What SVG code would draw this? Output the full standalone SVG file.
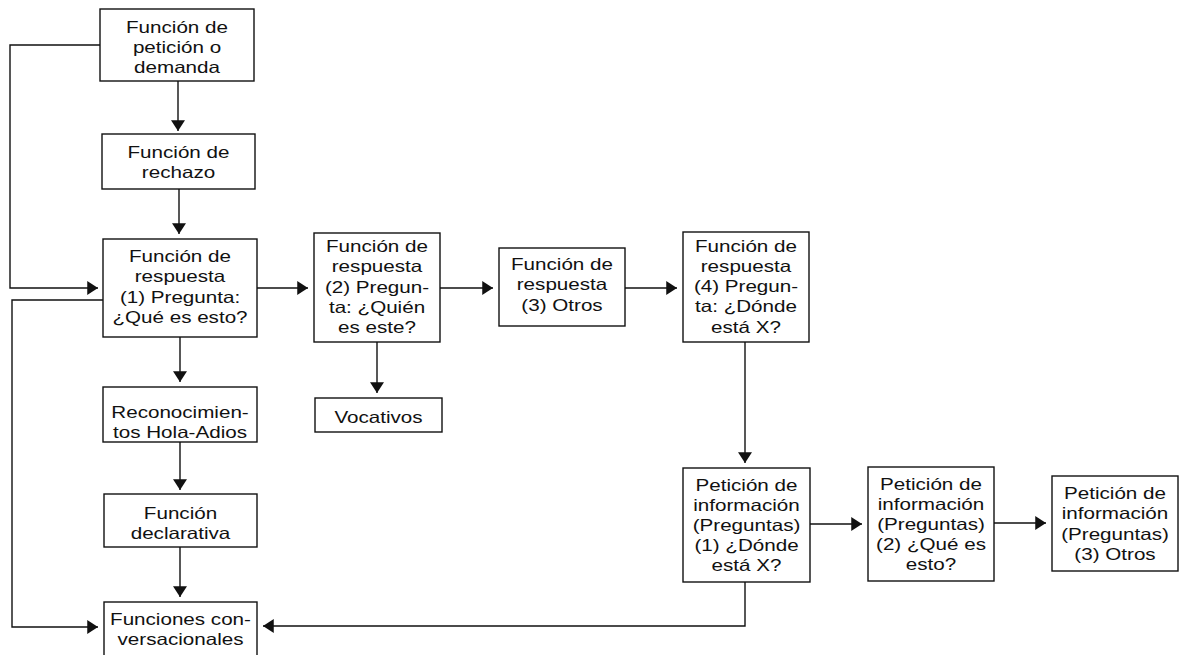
<svg xmlns="http://www.w3.org/2000/svg" width="1179" height="655" viewBox="0 0 1179 655">
<style>
  .box { fill: #ffffff; stroke: #111; stroke-width: 1.4; }
  .lbl { font-family: "Liberation Sans", Arial, sans-serif; font-size: 16.5px; fill: #111; text-anchor: middle; }
  .edge { fill: none; stroke: #111; stroke-width: 1.4; }
</style>
<defs>
  <marker id="ah" markerUnits="userSpaceOnUse" markerWidth="12" markerHeight="14" viewBox="0 0 10 13" refX="10" refY="6.5" orient="auto">
    <path d="M0,0 L10,6.5 L0,13 Z" fill="#111"/>
  </marker>
</defs>
<rect width="1179" height="655" fill="#ffffff"/>

<g id="connectors">
  <path class="edge" marker-end="url(#ah)" d="M178,81 V131"/>
  <path class="edge" marker-end="url(#ah)" d="M179,189 V234"/>
  <path class="edge" marker-end="url(#ah)" d="M180,337 V382"/>
  <path class="edge" marker-end="url(#ah)" d="M180,442 V490"/>
  <path class="edge" marker-end="url(#ah)" d="M180,547 V597"/>
  <path class="edge" marker-end="url(#ah)" d="M100,45 H10 V288 H98"/>
  <path class="edge" marker-end="url(#ah)" d="M103,300 H12 V627 H98"/>
  <path class="edge" marker-end="url(#ah)" d="M257,288 H308"/>
  <path class="edge" marker-end="url(#ah)" d="M377,342 V393"/>
  <path class="edge" marker-end="url(#ah)" d="M440,288 H493"/>
  <path class="edge" marker-end="url(#ah)" d="M625,288 H677"/>
  <path class="edge" marker-end="url(#ah)" d="M745,342 V463"/>
  <path class="edge" marker-end="url(#ah)" d="M810,524 H862"/>
  <path class="edge" marker-end="url(#ah)" d="M994,523 H1046"/>
  <path class="edge" marker-end="url(#ah)" d="M745,582 V626 H263"/>
</g>

<g id="n1">
  <rect class="box" x="100" y="9" width="154" height="72"/>
  <text class="lbl" transform="translate(177 0) scale(1.25 1)"><tspan x="0" y="33">Función de</tspan><tspan x="0" y="53">petición o</tspan><tspan x="0" y="73">demanda</tspan></text>
</g>
<g id="n2">
  <rect class="box" x="102" y="134" width="153" height="55"/>
  <text class="lbl" transform="translate(178.5 0) scale(1.25 1)"><tspan x="0" y="158">Función de</tspan><tspan x="0" y="178">rechazo</tspan></text>
</g>
<g id="n3">
  <rect class="box" x="103" y="239" width="154" height="98"/>
  <text class="lbl" transform="translate(180 0) scale(1.25 1)"><tspan x="0" y="262">Función de</tspan><tspan x="0" y="282.5">respuesta</tspan><tspan x="0" y="303">(1) Pregunta:</tspan><tspan x="0" y="323">¿Qué es esto?</tspan></text>
</g>
<g id="n4">
  <rect class="box" x="314" y="233" width="126" height="109"/>
  <text class="lbl" transform="translate(377 0) scale(1.25 1)"><tspan x="0" y="252">Función de</tspan><tspan x="0" y="272.5">respuesta</tspan><tspan x="0" y="293">(2) Pregun-</tspan><tspan x="0" y="313">ta: ¿Quién</tspan><tspan x="0" y="333">es este?</tspan></text>
</g>
<g id="n5">
  <rect class="box" x="499" y="248" width="126" height="78"/>
  <text class="lbl" transform="translate(562 0) scale(1.25 1)"><tspan x="0" y="270">Función de</tspan><tspan x="0" y="290.5">respuesta</tspan><tspan x="0" y="311">(3) Otros</tspan></text>
</g>
<g id="n6">
  <rect class="box" x="683" y="232" width="126" height="110"/>
  <text class="lbl" transform="translate(746 0) scale(1.25 1)"><tspan x="0" y="252">Función de</tspan><tspan x="0" y="272">respuesta</tspan><tspan x="0" y="292">(4) Pregun-</tspan><tspan x="0" y="312.5">ta: ¿Dónde</tspan><tspan x="0" y="333">está X?</tspan></text>
</g>
<g id="n7">
  <rect class="box" x="315" y="398" width="127" height="34"/>
  <text class="lbl" transform="translate(378.5 0) scale(1.25 1)"><tspan x="0" y="423">Vocativos</tspan></text>
</g>
<g id="n8">
  <rect class="box" x="103" y="387" width="154" height="55"/>
  <text class="lbl" transform="translate(180 0) scale(1.25 1)"><tspan x="0" y="418">Reconocimien-</tspan><tspan x="0" y="438">tos Hola-Adios</tspan></text>
</g>
<g id="n9">
  <rect class="box" x="104" y="494" width="153" height="53"/>
  <text class="lbl" transform="translate(180.5 0) scale(1.25 1)"><tspan x="0" y="519">Función</tspan><tspan x="0" y="539">declarativa</tspan></text>
</g>
<g id="n10">
  <rect class="box" x="104" y="602" width="153" height="60"/>
  <text class="lbl" transform="translate(180.5 0) scale(1.25 1)"><tspan x="0" y="625">Funciones con-</tspan><tspan x="0" y="645">versacionales</tspan></text>
</g>
<g id="n11">
  <rect class="box" x="683" y="468" width="127" height="114"/>
  <text class="lbl" transform="translate(746.5 0) scale(1.25 1)"><tspan x="0" y="491.5">Petición de</tspan><tspan x="0" y="511.5">información</tspan><tspan x="0" y="531.5">(Preguntas)</tspan><tspan x="0" y="551.5">(1) ¿Dónde</tspan><tspan x="0" y="571.5">está X?</tspan></text>
</g>
<g id="n12">
  <rect class="box" x="868" y="467" width="126" height="114"/>
  <text class="lbl" transform="translate(931 0) scale(1.25 1)"><tspan x="0" y="490">Petición de</tspan><tspan x="0" y="510">información</tspan><tspan x="0" y="530">(Preguntas)</tspan><tspan x="0" y="550">(2) ¿Qué es</tspan><tspan x="0" y="570">esto?</tspan></text>
</g>
<g id="n13">
  <rect class="box" x="1052" y="476" width="126" height="95"/>
  <text class="lbl" transform="translate(1115 0) scale(1.25 1)"><tspan x="0" y="499">Petición de</tspan><tspan x="0" y="519.5">información</tspan><tspan x="0" y="540">(Preguntas)</tspan><tspan x="0" y="560">(3) Otros</tspan></text>
</g>
</svg>
